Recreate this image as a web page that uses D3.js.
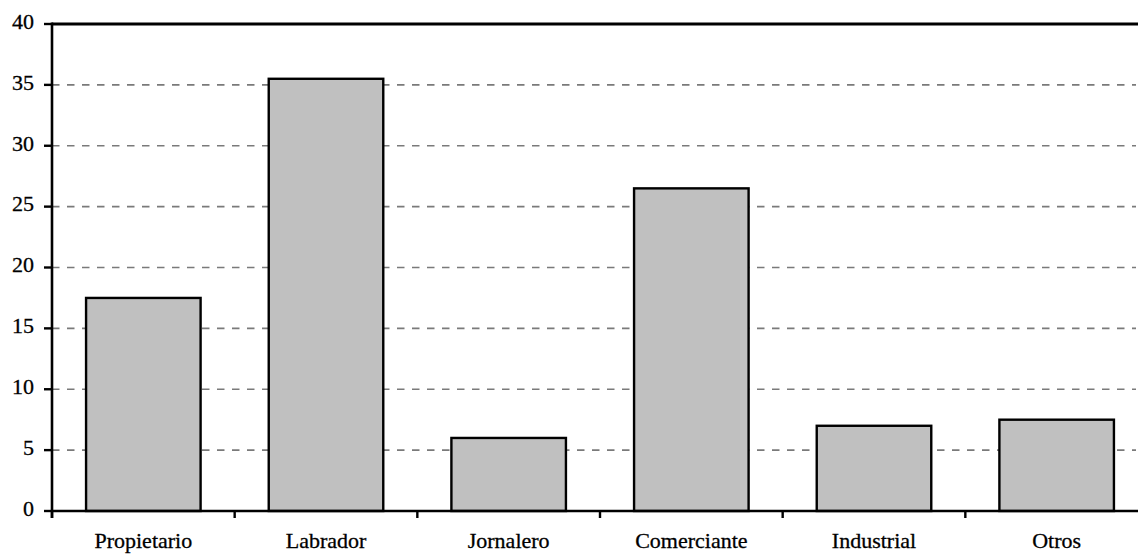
<!DOCTYPE html>
<html>
<head>
<meta charset="utf-8">
<script src="https://cdn.jsdelivr.net/npm/d3@7"></script>
<style>
  html, body { margin: 0; padding: 0; background: #fff; }
  svg { display: block; }
</style>
</head>
<body>
<svg id="chart" width="1138" height="556"></svg>
<script>
// Occupational categories and their share (%)
const categories = ["Propietario", "Labrador", "Jornalero", "Comerciante", "Industrial", "Otros"];
const values = [17.5, 35.5, 6, 26.5, 7, 7.5];
const yTicks = [0, 5, 10, 15, 20, 25, 30, 35, 40];

const serif = "Liberation Serif";

const svg = d3.select("#chart");
const plotLeft = 52, plotRight = 1148, plotTop = 24, plotBottom = 511;

const x = d3.scaleBand()
  .domain(categories)
  .range([plotLeft, plotRight])
  .paddingInner(0.373)
  .paddingOuter(0.1865);
const step = x.step();

const y = d3.scaleLinear().domain([0, 40]).range([plotBottom, plotTop]);

// dashed horizontal gridlines
svg.append("g")
  .selectAll("line")
  .data(yTicks.filter(d => d > 0 && d < 40))
  .join("line")
  .attr("x1", plotLeft).attr("x2", 1136)
  .attr("y1", d => y(d)).attr("y2", d => y(d))
  .attr("stroke", "#7a7a7a")
  .attr("stroke-width", 1.6)
  .attr("stroke-dasharray", "7.5,7.5");

// top frame line
svg.append("line")
  .attr("x1", plotLeft).attr("x2", 1138)
  .attr("y1", y(40)).attr("y2", y(40))
  .attr("stroke", "#000").attr("stroke-width", 3);

// bars
svg.append("g")
  .selectAll("rect")
  .data(categories)
  .join("rect")
  .attr("x", d => x(d))
  .attr("y", (d, i) => y(values[i]))
  .attr("width", x.bandwidth())
  .attr("height", (d, i) => y(0) - y(values[i]))
  .attr("fill", "#c0c0c0")
  .attr("stroke", "#000")
  .attr("stroke-width", 2.4);

// y axis
const yAxis = svg.append("g");
yAxis.append("line")
  .attr("x1", plotLeft).attr("x2", plotLeft)
  .attr("y1", y(40) - 1.5).attr("y2", plotBottom + 7)
  .attr("stroke", "#000").attr("stroke-width", 2.6);
yAxis.selectAll("line.tick")
  .data(yTicks)
  .join("line")
  .attr("class", "tick")
  .attr("x1", plotLeft - 8).attr("x2", plotLeft)
  .attr("y1", d => y(d)).attr("y2", d => y(d))
  .attr("stroke", "#000").attr("stroke-width", 2.4);
yAxis.selectAll("text")
  .data(yTicks)
  .join("text")
  .attr("x", 34)
  .attr("y", d => y(d))
  .attr("dy", "0.22em")
  .attr("text-anchor", "end")
  .attr("font-family", serif)
  .attr("font-size", 22)
  .attr("fill", "#000")
  .attr("stroke", "#000")
  .attr("stroke-width", 0.3)
  .text(d => d);

// x axis
const xAxis = svg.append("g");
xAxis.append("line")
  .attr("x1", plotLeft).attr("x2", 1138)
  .attr("y1", plotBottom).attr("y2", plotBottom)
  .attr("stroke", "#000").attr("stroke-width", 2.6);
xAxis.selectAll("line.tick")
  .data(d3.range(categories.length + 1))
  .join("line")
  .attr("class", "tick")
  .attr("x1", i => plotLeft + i * step).attr("x2", i => plotLeft + i * step)
  .attr("y1", plotBottom).attr("y2", plotBottom + 7)
  .attr("stroke", "#000").attr("stroke-width", 2.4);
xAxis.selectAll("text")
  .data(categories)
  .join("text")
  .attr("x", d => x(d) + x.bandwidth() / 2)
  .attr("y", 548)
  .attr("text-anchor", "middle")
  .attr("font-family", serif)
  .attr("font-size", 22)
  .attr("fill", "#000")
  .attr("stroke", "#000")
  .attr("stroke-width", 0.3)
  .text(d => d);
</script>
</body>
</html>
